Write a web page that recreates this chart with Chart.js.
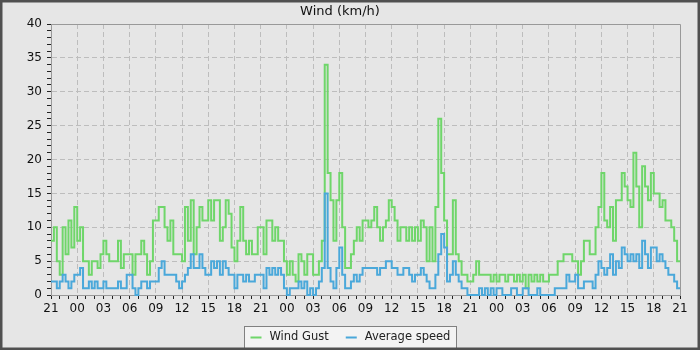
<!DOCTYPE html>
<html>
<head>
<meta charset="utf-8">
<script src="https://cdn.jsdelivr.net/npm/chart.js"></script>
<style>
  body { margin: 0; background: #e6e6e6; }
  canvas { display: block; }
</style>
</head>
<body>
<canvas id="windChart" width="700" height="350"></canvas>
<script>
// 72 hours starting at 21:00, three readings per hour (20 min)
const tickLabels = ["21", "00", "03", "06", "09", "12", "15", "18",
                    "21", "00", "03", "06", "09", "12", "15", "18",
                    "21", "00", "03", "06", "09", "12", "15", "18", "21"];

const gust = [
  8,10,5, 3,10,6, 11,7,13, 8,10,5, 5,3,5, 5,4,6, 8,6,5, 5,5,8,
  4,6,6, 6,3,6, 6,8,6, 3,5,11, 11,13,13, 10,8,11, 6,6,6, 5,13,8,
  14,6,10, 13,11,11, 14,11,14, 14,8,10, 14,12,7, 5,8,13, 8,6,8, 6,6,10,
  10,6,11, 11,8,10, 8,8,5, 3,5,3, 2,6,5, 3,6,6, 3,3,5, 8,34,18,
  14,8,14, 18,10,4, 4,6,8, 10,8,11, 11,10,11, 13,10,8, 10,11,14, 13,11,8,
  10,10,8, 10,8,10, 8,11,10, 5,10,5, 13,26,18, 11,6,6, 14,6,5, 3,3,2,
  2,3,5, 3,3,3, 3,2,3, 2,3,3, 2,3,3, 2,3,2, 3,1,3, 2,3,2,
  3,2,2, 3,3,3, 5,5,6, 6,6,5, 5,3,5, 8,8,6, 6,10,13, 18,11,10,
  13,8,14, 14,18,16, 14,13,21, 16,10,19, 16,14,18, 15,15,13, 14,11,11, 10,8,5
];

const avg = [
  2,2,1, 2,3,2, 1,2,3, 3,4,1, 1,2,1, 2,1,1, 2,1,1, 1,1,2,
  1,1,3, 3,1,0, 1,2,2, 1,2,2, 2,4,5, 3,3,3, 3,2,1, 2,3,4,
  6,4,4, 6,4,3, 3,5,4, 5,3,5, 4,3,3, 1,3,3, 2,3,2, 2,3,3,
  3,1,4, 3,4,3, 4,3,1, 0,1,1, 1,2,1, 2,0,1, 0,1,2, 4,15,4,
  2,1,4, 7,3,1, 1,2,3, 2,3,4, 4,4,4, 4,3,4, 4,5,5, 4,4,3,
  3,4,4, 3,2,3, 3,4,3, 2,1,1, 3,6,9, 7,2,3, 5,3,2, 1,1,0,
  0,0,0, 1,0,1, 0,1,0, 1,1,0, 0,0,1, 1,0,0, 1,1,0, 0,0,1,
  0,0,0, 0,0,1, 1,1,1, 3,2,2, 3,1,1, 2,2,2, 1,3,5, 4,3,4,
  6,3,5, 4,7,6, 5,6,5, 6,4,8, 6,4,7, 7,5,6, 5,4,3, 3,2,1
];

function steps(vals) {
  const pts = vals.map((v, i) => ({ x: i / 3, y: v }));
  pts.push({ x: vals.length / 3, y: vals[vals.length - 1] });
  return pts;
}

Chart.defaults.font.family = "'DejaVu Sans', sans-serif";

const background = {
  id: 'background',
  beforeDraw(chart) {
    const ctx = chart.ctx;
    ctx.save();
    ctx.fillStyle = '#e6e6e6';
    ctx.fillRect(0, 0, chart.width, chart.height);
    ctx.restore();
  }
};

const frame = {
  id: 'frame',
  beforeDatasetsDraw(chart) {
    const a = chart.chartArea, ctx = chart.ctx;
    ctx.save();
    ctx.strokeStyle = '#999';
    ctx.lineWidth = 1;
    ctx.beginPath();
    ctx.moveTo(Math.round(a.left), Math.round(a.top) + 0.5);
    ctx.lineTo(Math.round(a.right) + 0.5, Math.round(a.top) + 0.5);
    ctx.lineTo(Math.round(a.right) + 0.5, Math.round(a.bottom));
    ctx.stroke();
    ctx.restore();
  }
};

const legendBox = {
  id: 'legendBox',
  afterDraw(chart) {
    const ctx = chart.ctx;
    ctx.save();
    ctx.font = "11.5px 'DejaVu Sans'";
    const items = chart.data.datasets.map(d => ({
      label: d.label, color: d.borderColor, w: ctx.measureText(d.label).width
    }));
    const mark = 11, gap = 8, sep = 17, padX = 6;
    let total = padX * 2 + sep * (items.length - 1);
    items.forEach(it => { total += mark + gap + it.w; });
    const left = Math.round(chart.width / 2 - total / 2) + 0.5;
    const top = Math.round(chart.chartArea.bottom) + 31.5;
    const h = 22;
    ctx.fillStyle = '#f3f3f3';
    ctx.fillRect(left, top, total, h);
    ctx.strokeStyle = '#808080';
    ctx.lineWidth = 1;
    ctx.strokeRect(left, top, Math.round(total), h);
    const cy = top + h / 2;
    let x = left + padX;
    items.forEach(it => {
      ctx.fillStyle = it.color;
      ctx.fillRect(x, cy - 1, mark, 2);
      x += mark + gap;
      ctx.fillStyle = '#222';
      ctx.textBaseline = 'middle';
      ctx.fillText(it.label, x, cy);
      x += it.w + sep;
    });
    // outer frame of the picture
    ctx.strokeStyle = '#505050';
    ctx.lineWidth = 2.5;
    ctx.strokeRect(1.25, 1.25, chart.width - 2.5, chart.height - 2.5);
    ctx.restore();
  }
};

new Chart(document.getElementById('windChart'), {
  type: 'line',
  data: {
    datasets: [{
      label: 'Wind Gust',
      data: steps(gust),
      borderColor: '#6fd66a',
      backgroundColor: '#6fd66a',
      borderWidth: 2,
      pointRadius: 0,
      stepped: true,
      clip: false,
      order: 1
    }, {
      label: 'Average speed',
      data: steps(avg),
      borderColor: '#4aa8da',
      backgroundColor: '#4aa8da',
      borderWidth: 2,
      pointRadius: 0,
      stepped: true,
      clip: false,
      order: 0
    }]
  },
  options: {
    responsive: false,
    animation: false,
    layout: { padding: { left: 0, right: 20, top: 0, bottom: 31 } },
    plugins: {
      legend: { display: false },
      tooltip: { enabled: false },
      title: {
        display: true,
        text: 'Wind (km/h)',
        color: '#111',
        font: { size: 13, weight: 'normal' },
        padding: { top: 4, bottom: 4.4 }
      }
    },
    scales: {
      x: {
        type: 'linear',
        min: 0,
        max: 72,
        afterFit: s => { s.height = 24; },
        ticks: {
          stepSize: 1,
          autoSkip: false,
          maxRotation: 0,
          padding: 3,
          color: '#111',
          font: { size: 12 },
          callback: v => v % 3 === 0 ? tickLabels[v / 3] : ''
        },
        grid: {
          color: c => (c.tick && c.tick.value % 3 === 0 && c.tick.value > 0 && c.tick.value < 72) ? '#bdbdbd' : 'rgba(0,0,0,0)',
          tickColor: '#222',
          tickLength: 4
        },
        border: { color: '#999', dash: [5, 3] }
      },
      y: {
        min: 0,
        max: 40,
        afterFit: s => { s.width = 51; },
        ticks: {
          stepSize: 1,
          autoSkip: false,
          padding: 5,
          color: '#111',
          font: { size: 12 },
          callback: v => v % 5 === 0 ? v : ''
        },
        grid: {
          color: c => (c.tick && c.tick.value % 5 === 0 && c.tick.value > 0 && c.tick.value < 40) ? '#bdbdbd' : 'rgba(0,0,0,0)',
          tickColor: '#222',
          tickLength: 4
        },
        border: { color: '#999', dash: [5, 3] }
      }
    }
  },
  plugins: [background, frame, legendBox]
});
</script>
</body>
</html>
